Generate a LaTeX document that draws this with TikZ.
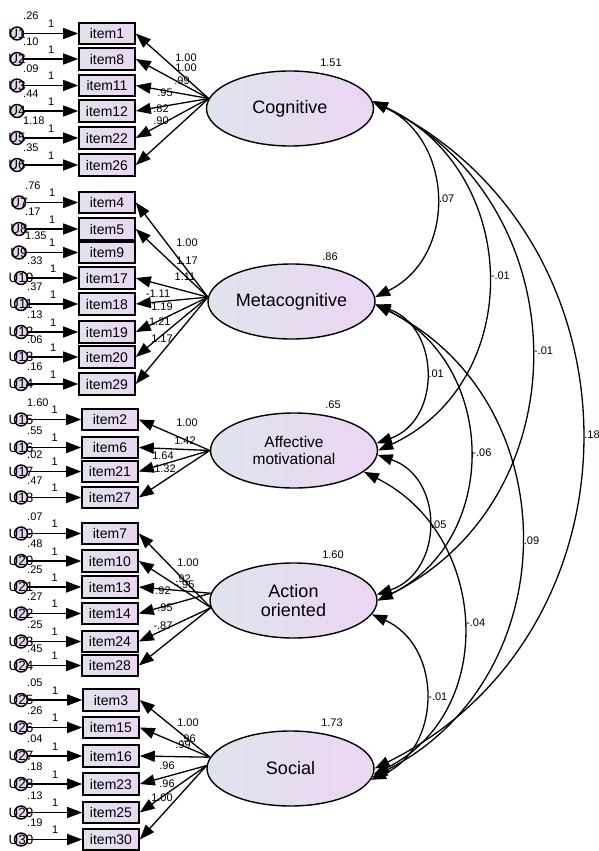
\documentclass[tikz,border=0pt]{standalone}
\usepackage{fontspec}
\setmainfont{Liberation Sans}
\usetikzlibrary{arrows.meta,shapes.geometric}

\definecolor{amosL}{RGB}{223,228,236}
\definecolor{amosR}{RGB}{236,213,243}
\definecolor{errfill}{RGB}{232,212,242}

\begin{document}
\begin{tikzpicture}[x=1pt, y=-1pt,
    latent/.style={ellipse, draw, line width=1.4pt, left color=amosL, right color=amosR,
      minimum width=167pt, minimum height=75pt, inner sep=0pt, align=center,
      font=\fontsize{18}{19}\selectfont},
    obs/.style={rectangle, draw, line width=1.6pt, left color=amosL, right color=amosR,
      minimum width=56pt, minimum height=21.5pt, inner sep=0pt, font=\fontsize{14}{16}\selectfont},
    err/.style={circle, draw, line width=1.4pt, fill=errfill, minimum size=13pt, inner sep=0pt},
    errtxt/.style={inner sep=0pt, font=\fontsize{13.5}{14}\selectfont},
    num/.style={inner sep=0pt, font=\fontsize{11}{12}\selectfont},
    arr/.style={line width=1.3pt, -{Triangle[length=15pt,width=11pt]}},
    cov/.style={line width=1.3pt, {Triangle[length=15pt,width=11pt]}-{Triangle[length=15pt,width=11pt]}}
  ]
    \useasboundingbox (0,0) rectangle (599,851);

    \node[latent] (cog) at (290,108.5) {Cognitive};
    \node[latent] (meta) at (291.5,301.5) {Metacognitive};
    \node[latent, font=\fontsize{15.5}{17.5}\selectfont] (aff) at (294,450.5) {Affective\\motivational};
    \node[latent] (act) at (293.5,600.5) {Action\\oriented};
    \node[latent] (soc) at (290.5,768.5) {Social};

    \node[num] (vcog) at (331,63) {1.51};
    \node[num] (vmeta) at (330,257) {.86};
    \node[num] (vaff) at (333,405) {.65};
    \node[num] (vact) at (333,555) {1.60};
    \node[num] (vsoc) at (332,723) {1.73};

    \foreach \nm/\er/\bx/\ex/\yy/\vr in {1/1/107/17/33.5/.26, 8/2/107/17/59/.10, 11/3/107/17/85.5/.09,
        12/4/107/17/111/.44, 22/5/107/17/138/1.18, 26/6/107/17/165/.35,
        4/7/107/19/202.5/.76, 5/8/107/19/229/.17, 9/9/107/19/252.5/1.35, 17/10/107/21/278/.33,
        18/11/107/21/304/.37, 19/12/107/21/332/.13, 20/13/107/21/357/.06, 29/14/107/21/384/.16,
        2/15/110/21/419.5/1.60, 6/16/110/21/447.5/.55, 21/17/110/21/471.5/.02, 27/18/110/21/497.5/.47,
        7/19/110/21/533.5/.07, 10/20/110/21/561/.48, 13/21/110/21/587/.25, 14/22/110/21/613.5/.27,
        24/23/110/21/641.5/.25, 28/24/110/21/665.5/.45,
        3/25/111/21/700/.05, 15/26/111/21/727.5/.26, 16/27/111/21/756/.04, 23/28/111/21/784/.18,
        25/29/111/21/812.5/.13, 30/30/111/21/839.5/.19} {
        \node[obs] (i\nm) at (\bx,\yy) {item\nm};
        \node[err, label={[errtxt]center:U\er}] (u\er) at (\ex,\yy) {};
        \draw[arr] (u\er) -- (i\nm) node[midway, above=5pt, num] (one\er) {1};
        \node[num, anchor=base west] (v\er) at (\ex+6,\yy-13.5) {\vr};
    }

    \foreach \nm/\ld/\lx/\ly in {1/1.00/186/58, 8/1.00/186/68, 11/.99/182/81, 12/.95/165/93,
        22/.82/161/109, 26/.90/161/121} {
        \draw[arr] (cog.173) -- (i\nm.east);
        \node[num] (l\nm) at (\lx,\ly) {\ld};
    }
    \foreach \nm/\ld/\lx/\ly in {4/1.00/187/243, 5/1.17/187/261, 17/1.11/185/277, 18/-1.11/158/294,
        19/1.19/162/307, 20/-1.21/158/322, 29/1.17/162/339} {
        \draw[arr] (meta.177) -- (i\nm.east);
        \node[num] (l\nm) at (\lx,\ly) {\ld};
    }
    \foreach \nm/\ld/\lx/\ly in {2/1.00/187/423, 6/1.42/185/441, 21/1.64/163/456, 27/1.32/165/469} {
        \draw[arr] (aff.180) -- (i\nm.east);
        \node[num] (l\nm) at (\lx,\ly) {\ld};
    }
    \foreach \nm/\an/\ld/\lx/\ly in {7/185/1.00/188/563, 10/185/.92/183/579, 13/175/-.95/185/585,
        14/175/.92/163/591, 24/185/.95/165/608, 28/185/-.87/163/626} {
        \draw[arr] (act.\an) -- (i\nm.east);
        \node[num] (l\nm) at (\lx,\ly) {\ld};
    }
    \foreach \nm/\an/\ld/\lx/\ly in {3/172/1.00/188/723, 15/172/.96/188/739, 16/172/.99/183/745,
        23/178/.96/167/766, 25/178/.96/167/784, 30/178/1.00/162/798} {
        \draw[arr] (soc.\an) -- (i\nm.east);
        \node[num] (l\nm) at (\lx,\ly) {\ld};
    }

    \draw[cov] (cog.5) .. controls +(82,40) and +(82,-40) .. (meta.3) node[midway, right=3pt, num] (c1) {.07};
    \draw[cov] (cog.5) .. controls +(149,69) and +(149,-69) .. (aff.0) node[midway, right=3pt, num] (c2) {-.01};
    \draw[cov] (cog.5) .. controls +(207,102) and +(207,-102) .. (act.0) node[midway, right=3pt, num] (c3) {-.01};
    \draw[cov] (cog.5) .. controls +(276,137) and +(276,-137) .. (soc.0) node[midway, right=3pt, num] (c4) {.18};
    \draw[cov] (meta.-2) .. controls +(65,23) and +(65,-23) .. (aff.5) node[midway, right=3pt, num] (c5) {.01};
    \draw[cov] (meta.-2) .. controls +(123,60) and +(123,-60) .. (act.0) node[midway, right=3pt, num] (c6) {-.06};
    \draw[cov] (meta.-2) .. controls +(195,97) and +(195,-97) .. (soc.-6) node[midway, right=3pt, num] (c7) {.09};
    \draw[cov] (aff.-3) .. controls +(67,23) and +(67,-23) .. (act.4) node[midway, right=3pt, num] (c8) {.05};
    \draw[cov] (aff.-17) .. controls +(125,62) and +(125,-62) .. (soc.-4) node[midway, right=3pt, num] (c9) {-.04};
    \draw[cov] (act.-10) .. controls +(71,32) and +(71,-32) .. (soc.-8) node[midway, right=3pt, num] (c10) {-.01};
\end{tikzpicture}
\end{document}
